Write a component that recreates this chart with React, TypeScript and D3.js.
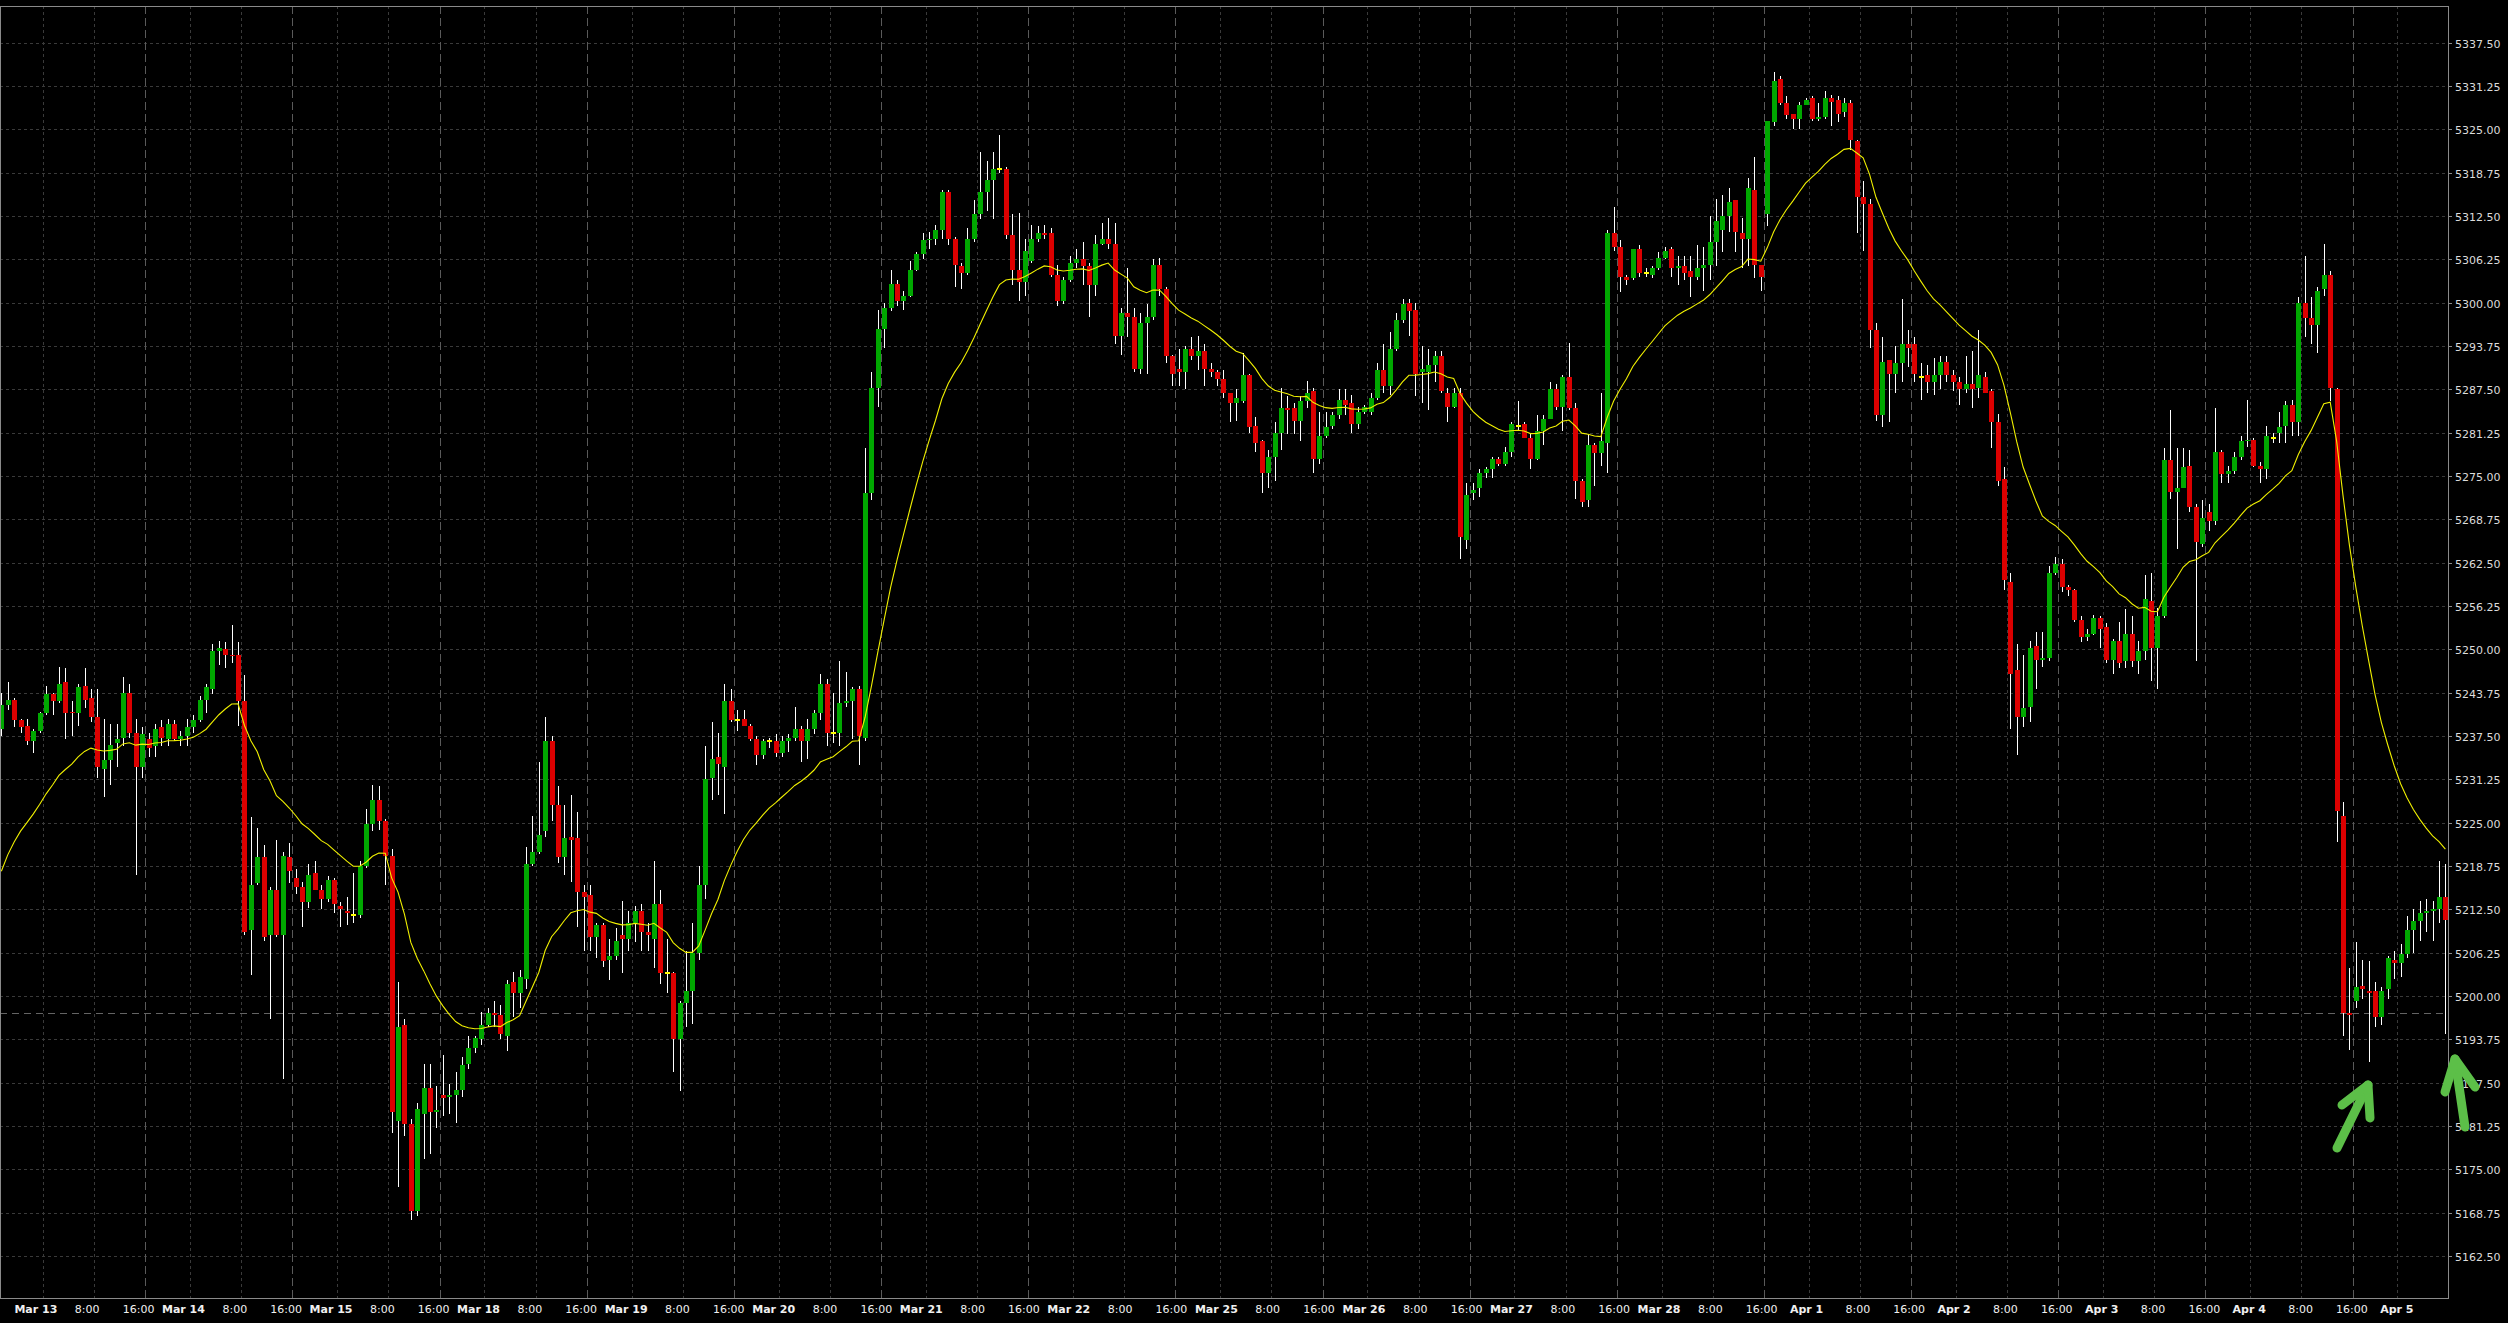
import React from 'react';
import * as d3 from 'd3';

type Bar = [number, number, number, number]; // open, high, low, close

const seg01: Bar[] = [
  [5238.5,5243.75,5237.5,5242],[5242,5245.25,5241.25,5242.75],[5242.75,5243,5238.75,5239.75],[5239.75,5240,5238,5238.75],
  [5239,5240,5236.25,5236.75],[5236.75,5238.5,5235,5238.25],[5238.25,5241,5238,5240.75],[5240.75,5244.75,5240.5,5243.5],
  [5243.5,5243.75,5240.5,5242.5],[5242.5,5247.5,5242.25,5245],[5245.25,5247.25,5237,5240.75],[5241,5242.5,5237.5,5240.75],
  [5240.75,5245,5239,5244.5],[5244.75,5247.25,5241.5,5242.75],[5243,5244.25,5239.5,5240.25],[5240.25,5244.25,5231.5,5233],
  [5232.75,5240,5228.75,5234],[5234,5239.25,5230.5,5236.25],[5236.5,5239.25,5233,5237],[5237.25,5246,5236,5243.75],
  [5243.75,5245,5237.25,5238],[5238,5240,5217.5,5233],[5233,5238.75,5231.5,5237.75],
];
const seg02: Bar[] = [
  [5237,5238,5234.5,5235.75],[5236,5239.25,5234.5,5238.5],[5238.75,5239.75,5236,5237.25],[5237,5240,5236,5239.25],
  [5239.25,5239.75,5236.75,5237],[5237,5238.25,5236,5237.5],[5237.5,5240,5236,5238.75],[5238.75,5240.5,5238,5239.75],
  [5239.75,5243.25,5239.5,5242.75],[5242.75,5245,5240.75,5244.5],[5244.25,5250.75,5243.5,5249.75],[5249.75,5251.25,5247.75,5250.25],
  [5250,5251,5247.25,5249.25],[5249.25,5253.5,5248,5249],[5249.25,5251,5239,5242.5],[5242.5,5246.25,5208.75,5209.25],
  [5209.5,5225.75,5203,5216],[5216.25,5224.25,5216,5220],[5220,5221.75,5208,5208.5],[5208.75,5215.75,5196.75,5215.25],
  [5215.25,5222.5,5208.5,5208.75],[5208.75,5220.75,5188,5220.25],[5220,5222,5216.25,5218],
];
const seg03: Bar[] = [
  [5217,5218.25,5214.75,5215.75],[5215.75,5216.5,5210,5213.5],[5213.5,5219,5212.75,5217.5],[5217.75,5219.5,5215.25,5215.25],
  [5215.25,5216,5212.5,5214],[5214,5217.25,5213.5,5216.75],[5216.75,5217,5212,5213.25],[5213,5213.5,5210,5212.5],
  [5212.25,5214.25,5210.25,5212],[5211.75,5217.75,5210.5,5211.75],[5211.75,5219.5,5211.25,5218.75],[5218.75,5227,5218.5,5224.75],
  [5224.75,5230.5,5223.75,5228.25],[5228.25,5230.25,5224,5225.25],[5225.25,5225.5,5216,5220.25],[5220.25,5221.25,5180.25,5183.25],
  [5182,5202,5172.5,5195.5],[5195.75,5196.75,5179.75,5181.5],[5181.5,5182.25,5167.75,5169],[5169,5184.5,5168.25,5183.75],
  [5183,5190.25,5176.5,5186.75],[5186.75,5190.25,5177.25,5183.25],[5183.25,5187,5181,5183.5],
];
const seg04: Bar[] = [
  [5185.75,5191.5,5182.75,5185.25],[5185.5,5187.25,5183,5185.75],[5185.75,5189,5181.75,5186.5],[5186.5,5191.25,5185.5,5190],
  [5190.25,5194.25,5189.5,5192.5],[5192.5,5194.25,5191.75,5194],[5193.75,5197.75,5193,5195.75],[5195.75,5198.25,5195.5,5197.5],
  [5197.5,5199.25,5195.5,5197.25],[5197.25,5198.75,5193.75,5194.5],[5194.25,5202.25,5192,5201.75],[5202,5203.5,5197,5200.5],
  [5200.5,5203.75,5198.25,5202.75],[5202.5,5221.5,5201,5219],[5219,5226,5218.75,5220.75],[5220.75,5233.75,5220.5,5223.25],
  [5223.75,5240.25,5223,5236.75],[5236.75,5237.5,5225.25,5227.5],[5227.5,5230.25,5219.25,5220],[5220,5227.5,5217.5,5222.75],
  [5223,5229,5216.5,5222.5],[5222.75,5226.5,5210,5215],[5215,5216,5206.5,5214.25],
];
const seg05: Bar[] = [
  [5214.5,5216,5206.5,5208.5],[5208.5,5210.5,5205.5,5210.25],[5210.25,5210.5,5204.25,5205],[5205.25,5208.25,5202.25,5205.75],
  [5205.75,5209.75,5205.25,5208],[5208.75,5213.75,5203.25,5208.25],[5208.25,5212.25,5206.5,5210.5],[5210.5,5213,5207.75,5212.25],
  [5212.25,5213.25,5206.5,5209.25],[5209.25,5210.5,5206.5,5208.75],[5208.25,5219.5,5204,5213.25],[5213.25,5215.25,5201.75,5203.25],
  [5203.25,5208.25,5200.5,5203.25],[5203.25,5203.5,5189,5193.75],[5193.75,5199.25,5186.25,5199],[5199,5206.5,5195.5,5200.75],
  [5200.75,5210.5,5196,5206.25],[5206.25,5218.75,5205.25,5216],[5216,5236,5214,5231.25],[5231.5,5239.5,5228.25,5234.25],
  [5234.5,5238,5229,5233.5],[5233,5245,5226.25,5242.5],[5242.5,5244.25,5239.5,5239.75],
];
const seg06: Bar[] = [
  [5239.75,5241.25,5238.25,5239.75],[5240,5241.25,5239,5239],[5239,5239.25,5236.75,5237],[5237,5237.5,5233.25,5234.75],
  [5234.75,5237,5234.25,5236.75],[5236.75,5237.25,5235.75,5236.75],[5236.75,5237.75,5234.5,5235],[5235,5237.5,5234.5,5236.75],
  [5236.75,5237.75,5235.25,5237.25],[5237.25,5241.75,5236.75,5238.5],[5238.5,5239,5233.75,5236.75],[5236.75,5240,5234.25,5238.5],
  [5238.5,5241.25,5237.75,5240.75],[5240.75,5246.5,5239.75,5245],[5245,5245.75,5236,5238],[5238,5243.75,5236.5,5238],
  [5238,5248.25,5236,5242.25],[5242.25,5246.75,5241.75,5242.5],[5242.5,5244.5,5237,5244.25],[5244.25,5244.75,5233.25,5237.5],
  [5237.25,5279,5236.75,5272.5],[5272.5,5290,5271.5,5287.75],[5287.75,5299,5285,5296.25],
];
const seg07: Bar[] = [
  [5296.25,5300,5293.5,5299.25],[5299.25,5304.75,5298.75,5302.75],[5302.75,5303.25,5299.5,5300.25],[5300.25,5301.75,5299,5301],
  [5301,5306,5300.75,5304.75],[5304.75,5307.25,5304.5,5307],[5307,5310,5306.25,5309],[5309,5310.25,5307.75,5309.25],
  [5309.25,5311.25,5308.25,5310.5],[5310.5,5316.25,5309.25,5316],[5316,5316.25,5308.25,5309.25],[5309.25,5309.5,5302.25,5305.5],
  [5305.25,5305.75,5302,5304.25],[5304.25,5310.75,5304,5309.25],[5309.25,5314.75,5308.75,5312.75],[5312.75,5321.75,5312,5316],
  [5316,5320.5,5313.25,5317.75],[5317.75,5321.75,5312,5319.25],[5319.25,5324.25,5318.75,5319.25],[5319.25,5319.5,5309.25,5309.75],
  [5309.75,5312.75,5302.5,5304.75],[5304.75,5313,5300.25,5303],[5303,5309.25,5301,5307.5],
];
const seg08: Bar[] = [
  [5306,5311.25,5305.75,5309.25],[5309.25,5311,5308.75,5310],[5310,5311.25,5309.25,5309.75],[5310,5310.75,5303.75,5304],
  [5304,5305.5,5299.5,5300.25],[5300.25,5303.75,5299.75,5303.25],[5303.25,5306.75,5303,5305.75],[5305.75,5307.75,5305,5306.25],
  [5306.25,5308.75,5302.5,5305.25],[5305.25,5305.75,5298,5302.5],[5302.5,5309.75,5301,5308.5],[5308.5,5311.5,5308.25,5309.25],
  [5309.25,5312.25,5307.75,5308.5],[5308.5,5311.5,5294,5295.25],[5295.25,5299.25,5292.5,5298.5],[5298.5,5305,5295,5298],
  [5298,5299.25,5290,5290.5],[5290.5,5298.5,5289.75,5297],[5297,5299.75,5289.75,5298],[5298,5306.25,5297.5,5305.5],
  [5305.5,5306.5,5301,5302],[5302,5302.25,5291.25,5292.25],[5292.25,5292.5,5288,5289.75],
];
const seg09: Bar[] = [
  [5290.5,5293.25,5288,5290],[5290,5293.75,5287.5,5293.25],[5293.25,5295,5291.75,5292.25],[5292.25,5295.25,5290.25,5293],
  [5293,5294,5288,5290.5],[5290.5,5291.25,5289.25,5290],[5290,5290.25,5288,5289],[5289,5290.25,5286.25,5287],
  [5287,5287,5282.75,5285.5],[5285.5,5287.5,5283,5286.25],[5285.75,5292.75,5285.5,5289.5],[5289.5,5289.75,5281.25,5282],
  [5282.25,5283.5,5278.5,5279.75],[5280,5280.25,5272.5,5275.5],[5275.5,5278.75,5273.25,5277.75],[5277.75,5282.75,5274.25,5281.25],
  [5281.25,5287.75,5278.75,5284.75],[5284.75,5286.5,5281,5284.5],[5284.75,5285.5,5281,5283],[5283,5286.5,5280,5285.75],
  [5285.75,5288.75,5284.75,5287],[5287.25,5287.75,5275.5,5277.5],[5277.5,5284.25,5276.75,5280.75],
];
const seg10: Bar[] = [
  [5280.75,5284.25,5280.5,5282],[5282.25,5284.25,5281.75,5283.75],[5283.75,5287.5,5283.25,5286],[5286,5287.5,5283.75,5285.25],
  [5285.5,5286.75,5281.25,5282.5],[5282.5,5285,5281.75,5284.25],[5284.25,5285.25,5284,5285],[5284.25,5287,5283.75,5286.25],
  [5286.25,5291.25,5286,5290.25],[5290.25,5294,5287,5288],[5288,5295.75,5286.75,5293.25],[5293.25,5298.5,5293,5297.5],
  [5297.5,5300.5,5297,5299.75],[5300,5300.5,5295.25,5298.75],[5299,5300,5286.5,5289.75],[5290,5293.75,5285.5,5290.5],
  [5290,5293.25,5284.5,5291],[5291,5293,5288.5,5292.25],[5292.25,5293,5287,5287.25],[5287,5287.75,5282.75,5285],
  [5285,5287.75,5284.75,5287],[5287,5287.75,5263,5266.25],[5265.75,5274,5264.5,5272.25],
];
const seg11: Bar[] = [
  [5272.5,5274,5271.5,5273],[5273.25,5276,5272,5275.5],[5275.5,5276.25,5274.75,5276],[5276,5277.75,5274.75,5277.5],
  [5277.5,5277.75,5276.5,5276.75],[5276.75,5279.25,5276.5,5278.5],[5278.5,5282.75,5277.75,5282.5],[5282.25,5285.75,5281.5,5282.25],
  [5282.5,5282.75,5280.5,5280.5],[5280.5,5281.25,5276,5277.5],[5277.5,5283.75,5277.25,5281.5],[5281.5,5283.75,5279.5,5283.25],
  [5283.25,5288.5,5283.25,5287.5],[5287.5,5288.25,5284.5,5285],[5285,5289.5,5281.5,5289.25],[5289.25,5294.25,5284.5,5284.75],
  [5284.75,5285.5,5271.75,5274.25],[5274.25,5274.5,5270.5,5271.25],[5271.5,5281,5270.5,5279.5],[5279.5,5279.75,5273.5,5278.25],
  [5278.25,5287,5276.5,5280],[5279.75,5310.5,5275.5,5310],[5310,5313.75,5307.5,5308],
];
const seg12: Bar[] = [
  [5308,5309,5301.5,5303.75],[5303.75,5304,5302.5,5303.25],[5303.5,5307.75,5303.25,5307.75],[5307.75,5308.25,5303.75,5304.25],
  [5304.25,5305,5303.75,5304.25],[5304,5305.25,5303.5,5305],[5305,5307.25,5304.75,5306.5],[5306.5,5308,5306.25,5307.5],
  [5307.75,5308,5303.75,5305],[5305,5306.75,5302.5,5305.25],[5305.25,5306.75,5303.25,5304.25],[5304.5,5306.75,5300.75,5303.75],
  [5303.75,5308.25,5303.25,5305],[5305,5308,5301.75,5305.5],[5305.5,5312.5,5303.25,5308.75],[5308.75,5315,5305.25,5311.75],
  [5310.5,5315.5,5307.25,5312.5],[5312.5,5316.5,5310.25,5314.5],[5314.75,5314.75,5307.25,5310.25],[5310,5312.25,5305,5309.25],
  [5309.25,5318,5305.25,5316.5],[5316.25,5321,5303.5,5305.5],[5305.5,5305.5,5301.75,5303.75],
];
const seg13: Bar[] = [
  [5312.75,5326.25,5311,5326.25],[5326,5333.25,5325.5,5332],[5332.25,5332.75,5328.5,5328.75],[5328.75,5329.75,5326.5,5327],
  [5327.25,5327.25,5325,5326.5],[5326.5,5329,5325,5328.5],[5328.5,5329.5,5328.5,5329.25],[5329.5,5329.75,5326.25,5326.5],
  [5326.5,5328.75,5326.25,5326.75],[5326.75,5330.5,5326.5,5329.5],[5329.5,5330,5325.5,5329],[5329.25,5329.75,5326,5327.25],
  [5327.5,5329.5,5326.75,5328.75],[5328.75,5329.25,5322,5323.5],[5323.25,5323.5,5310,5315.25],[5315.25,5317.5,5307.5,5314.25],
  [5314.25,5315,5293.5,5296],[5296,5297,5283,5283.75],[5283.75,5295,5282,5291.5],[5291.75,5291.75,5282.75,5289.75],
  [5289.75,5293.75,5287,5291.25],[5291.25,5300.5,5288.5,5294],[5294,5296,5290.75,5293.5],
];
const seg14: Bar[] = [
  [5294,5295,5288.5,5289.75],[5289.25,5291.25,5286,5289.25],[5289.5,5291,5287,5288.5],[5288.5,5292,5286.75,5289.5],
  [5289.5,5292.25,5287.5,5291.5],[5291.5,5292.25,5288.5,5289.5],[5289.5,5290.25,5287.25,5288.5],[5288.5,5289.25,5285.25,5287.5],
  [5287.5,5292.25,5287,5288.25],[5288.25,5293,5284.75,5287.5],[5287.75,5296,5286.25,5289.5],[5289.25,5290,5287,5287],
  [5287.25,5287.5,5279,5282.75],[5282.75,5284,5273.5,5274.25],[5274.5,5276.25,5258.5,5260],[5259.75,5261,5238.5,5246.5],
  [5247,5250.75,5234.75,5240.25],[5240.25,5249.25,5238.75,5241.5],[5241.75,5251.25,5239.5,5250.25],[5250.5,5252.5,5244.25,5248.5],
  [5248.5,5252.5,5247.5,5248.75],[5248.75,5262,5248.25,5261],[5261,5263.25,5260.75,5262.25],
];
const seg15: Bar[] = [
  [5262.25,5263,5258.25,5259],[5259,5259.25,5257.75,5258.5],[5258.5,5258.75,5254,5254.25],[5254.25,5254.75,5251,5251.75],
  [5251.75,5253,5251.25,5252.25],[5252.25,5255,5252,5254.5],[5254.5,5254.75,5250.25,5253],[5253.25,5253.75,5248,5248.5],
  [5248.5,5251.5,5246.5,5251.25],[5251.25,5254,5247.25,5248],[5248.25,5255.75,5247.25,5252.25],[5252.25,5254.75,5247.5,5248.25],
  [5248.25,5251.25,5246.5,5249.75],[5249.75,5260.75,5248.5,5257.25],[5257,5261,5245.5,5250.25],[5250.25,5256,5244.25,5254.75],
  [5254.75,5279,5254.5,5277.25],[5277.25,5284.5,5271.75,5272.75],[5272.75,5279,5264.5,5273.25],[5273.25,5279,5273.25,5276.25],
  [5276.5,5278.75,5269.75,5270.5],[5270.5,5271,5248.25,5265.5],[5265.25,5271.5,5264.75,5269],
];
const seg16: Bar[] = [
  [5269.75,5271,5267,5268.5],[5268.5,5284.75,5268,5278.5],[5278.5,5278.75,5274,5275.25],[5275.25,5276.5,5274,5275.75],
  [5275.75,5278.5,5275.25,5277.75],[5277.75,5280.75,5277.25,5280],[5280,5286,5279.25,5280.25],[5280.25,5280.5,5276.25,5276.5],
  [5276.5,5277,5274,5276],[5276,5282.25,5274.5,5280.75],[5280.5,5281.25,5279.75,5280.5],[5281.25,5284.25,5279.75,5282],
  [5282.25,5285.75,5279.75,5285.25],[5285.25,5286,5280.75,5282.75],[5282.75,5300.75,5280.75,5300],[5300,5306.75,5295,5297.75],
  [5297.75,5300.75,5294,5296.75],[5296.75,5302.25,5292.75,5301.75],[5302,5308.5,5301,5304],[5304,5304.5,5285.75,5287.75],
  [5287.5,5287.75,5222.25,5226.75],[5226,5228,5194.25,5197.5],[5197.5,5204,5192.25,5197.25],
];
const seg17: Bar[] = [
  [5199.25,5207.75,5198.25,5201.25],[5201.5,5205.25,5199.5,5201],[5200.75,5205,5190.5,5200.5],[5200.75,5202,5195.5,5197],
  [5197,5201.25,5195.75,5200.75],[5201,5205.75,5199.5,5205.5],[5205.25,5206.5,5202.5,5204.75],[5204.75,5207.5,5202.75,5206],
  [5206,5211.5,5205.5,5209.5],[5209.5,5212.5,5206.25,5210.75],[5210.75,5213.75,5208,5212],[5212,5214,5209.25,5212.25],
  [5212.25,5213.75,5208,5212.5],[5212.5,5219.5,5210.5,5214.25],[5214.25,5219,5194.5,5211],
];

const bars: Bar[] = [
  ...seg01, ...seg02, ...seg03, ...seg04, ...seg05, ...seg06, ...seg07, ...seg08, ...seg09,
  ...seg10, ...seg11, ...seg12, ...seg13, ...seg14, ...seg15, ...seg16, ...seg17,
];

const yTickValues = [
  5162.5, 5168.75, 5175, 5181.25, 5187.5, 5193.75, 5200, 5206.25, 5212.5, 5218.75, 5225, 5231.25,
  5237.5, 5243.75, 5250, 5256.25, 5262.5, 5268.75, 5275, 5281.25, 5287.5, 5293.75, 5300, 5306.25,
  5312.5, 5318.75, 5325, 5331.25, 5337.5,
];
const dayNames = [
  'Mar 13', 'Mar 14', 'Mar 15', 'Mar 18', 'Mar 19', 'Mar 20', 'Mar 21', 'Mar 22', 'Mar 25',
  'Mar 26', 'Mar 27', 'Mar 28', 'Apr 1', 'Apr 2', 'Apr 3', 'Apr 4', 'Apr 5',
];
const hourNames = ['8:00', '16:00'];
const barsPerDay = 23;
const maPeriod = 20;
const maStart = 5218;
const refLinePrice = 5197.5;
const arrows = [
  { shaft: [[2337, 1148], [2368, 1085]], head: [[2342, 1105], [2368, 1085], [2370, 1118]] },
  { shaft: [[2465, 1127], [2455, 1059]], head: [[2445, 1092], [2455, 1059], [2475, 1087]] },
];

const W = 2508;
const H = 1323;
const PL = 0, PT = 6, PR = 2448, PB = 1298;
const FONT = '"DejaVu Sans", Verdana, sans-serif';

export default function App() {
  const n = bars.length;
  const x = d3.scaleLinear().domain([0, n - 1]).range([1.35, 1.35 + 6.398 * (n - 1)]);
  const y = d3.scaleLinear().domain([5162.5, 5337.5]).range([1256, 42.7]);
  const labelX = d3.scaleLinear().domain([6.5, 374.5]).range([35.9, 2396.8]);

  const alpha = 2 / (maPeriod + 1);
  const ema: number[] = [];
  bars.forEach((b, i) => {
    ema.push(i === 0 ? maStart : ema[i - 1] + alpha * (b[3] - ema[i - 1]));
  });
  const maPath = d3.line<number>().x((_, i) => x(i)).y((v) => y(v))(ema) || '';

  const vlines: { gx: number; lx: number; sep: boolean; txt: string; bold: boolean }[] = [];
  dayNames.forEach((name, d) => {
    const items: [number, string, boolean, boolean][] = [
      [6.5, name, true, false],
      [14.5, hourNames[0], false, false],
      [22.5, hourNames[1], false, true],
    ];
    items.forEach(([off, txt, bold, sep]) => {
      const g = off + barsPerDay * d;
      const gx = x(g);
      if (gx >= PR - 1) return;
      vlines.push({ gx, lx: labelX(g), sep, txt, bold });
    });
  });

  const green = '#00a800';
  const red = '#dc0000';

  return (
    <svg
      width={W}
      height={H}
      style={{ position: 'fixed', left: 0, top: 0, background: '#000', display: 'block' }}
    >
      <defs>
        <clipPath id="plotClip">
          <rect x={PL} y={PT} width={PR - PL} height={PB - PT} />
        </clipPath>
      </defs>
      <rect x={0} y={0} width={W} height={H} fill="#000" />

      <g shapeRendering="crispEdges">
        {yTickValues.map((v) => {
          const yy = Math.round(y(v)) + 0.5;
          return (
            <line key={'h' + v} x1={PL} x2={PR} y1={yy} y2={yy} stroke="#3a3a3a" strokeDasharray="3,3" />
          );
        })}
        {vlines.map((l, i) => {
          const xx = Math.round(l.gx) + 0.5;
          return (
            <line
              key={'v' + i}
              x1={xx}
              x2={xx}
              y1={PT}
              y2={PB}
              stroke={l.sep ? '#5a5a5a' : '#3a3a3a'}
              strokeDasharray={l.sep ? '8,4' : '3,3'}
            />
          );
        })}
        <line
          x1={PL}
          x2={PR}
          y1={Math.round(y(refLinePrice)) + 0.5}
          y2={Math.round(y(refLinePrice)) + 0.5}
          stroke="#646464"
          strokeDasharray="7,5"
        />
      </g>

      <g clipPath="url(#plotClip)" shapeRendering="crispEdges">
        {bars.map((b, i) => {
          const [o, h, l, c] = b;
          const cx = Math.round(x(i));
          const yh = Math.round(y(h));
          const yl = Math.round(y(l));
          const top = Math.round(y(Math.max(o, c)));
          const bot = Math.round(y(Math.min(o, c)));
          const doji = o === c;
          return (
            <g key={'c' + i}>
              <rect x={cx} y={yh} width={1} height={Math.max(1, yl - yh)} fill="#ffffff" />
              {doji ? (
                <rect x={cx - 2} y={top - 1} width={5} height={2} fill="#ffff00" />
              ) : (
                <rect
                  x={cx - 2}
                  y={top}
                  width={5}
                  height={Math.max(1, bot - top)}
                  fill={c > o ? green : red}
                />
              )}
            </g>
          );
        })}
      </g>

      <g clipPath="url(#plotClip)">
        <path d={maPath} fill="none" stroke="#f0f000" strokeWidth={1.1} />
      </g>

      <rect
        x={PL + 0.5}
        y={PT + 0.5}
        width={PR - PL}
        height={PB - PT}
        fill="none"
        stroke="#8a8a8a"
        shapeRendering="crispEdges"
      />

      <g fontFamily={FONT} fontSize={11} fill="#dcdcdc">
        {yTickValues.map((v) => {
          const yy = Math.round(y(v)) + 0.5;
          return (
            <g key={'yl' + v}>
              <line x1={PR} x2={PR + 4} y1={yy} y2={yy} stroke="#8a8a8a" shapeRendering="crispEdges" />
              <text x={PR + 7} y={yy + 4}>
                {v.toFixed(2)}
              </text>
            </g>
          );
        })}
      </g>

      <g fontFamily={FONT} fontSize={11} fill="#f0f0f0">
        {vlines.map((l, i) => (
          <text key={'xl' + i} x={l.lx} y={1313} textAnchor="middle" fontWeight={l.bold ? 'bold' : 'normal'}>
            {l.txt}
          </text>
        ))}
      </g>

      <g fill="none" stroke="#5cbf48" strokeWidth={9} strokeLinecap="round" strokeLinejoin="round">
        {arrows.map((a, i) => (
          <g key={'a' + i}>
            <path d={d3.line()(a.shaft as [number, number][]) || ''} />
            <path d={d3.line()(a.head as [number, number][]) || ''} />
          </g>
        ))}
      </g>
    </svg>
  );
}
